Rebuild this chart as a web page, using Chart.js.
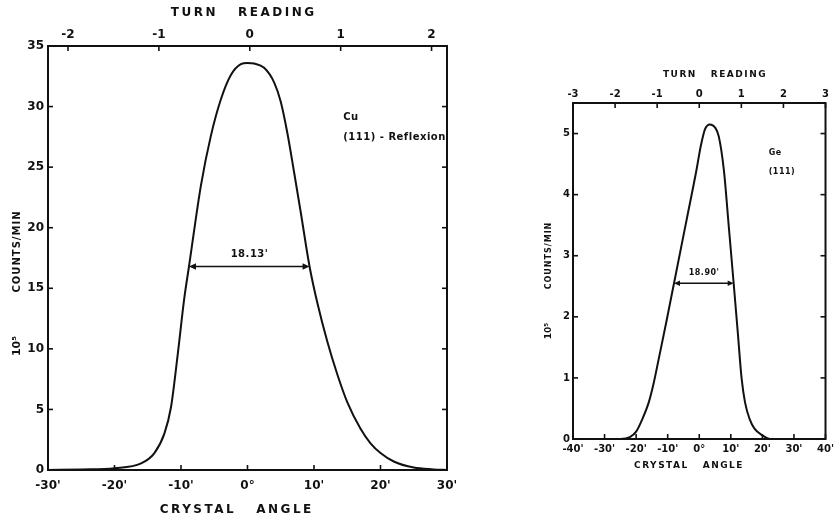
<!DOCTYPE html>
<html>
<head>
<meta charset="utf-8">
<script src="https://cdn.jsdelivr.net/npm/chart.js@4.4.0/dist/chart.umd.min.js"></script>
<style>
  body { margin: 0; background: #fff; width: 838px; height: 524px; overflow: hidden; position: relative; }
  .box { position: absolute; top: 0; }
  #cuBox { left: 0; }
  #geBox { left: 520px; }
</style>
</head>
<body>
<div class="box" id="cuBox"><canvas id="cuChart" width="470" height="524"></canvas></div>
<div class="box" id="geBox"><canvas id="geChart" width="318" height="524"></canvas></div>
<script>
// Cu (111) rocking curve: crystal angle in minutes of arc, counts in 10^5 / min
const cuAngle  = [-30, -25, -20, -16, -14, -12.5, -11.5, -10.5, -9.5, -8.8, -7, -5.5, -4, -2.5, -1, 0, 1, 2.5, 4, 5, 6, 7, 8, 9.33, 10.5, 12, 13.5, 15, 17, 18.5, 20, 22, 25, 28, 30];
const cuCounts = [0, 0.05, 0.15, 0.55, 1.4, 3.0, 5.2, 9.5, 14.2, 16.8, 23.5, 27.6, 30.6, 32.6, 33.5, 33.6, 33.55, 33.2, 32.0, 30.4, 27.8, 24.6, 21.3, 16.8, 13.8, 10.6, 7.9, 5.6, 3.4, 2.2, 1.4, 0.7, 0.2, 0.05, 0];
const cuCountTicks = [0, 5, 10, 15, 20, 25, 30, 35];
const cuAngleTicks = [-30, -20, -10, 0, 10, 20, 30];
const cuTurnTicks  = [-2, -1, 0, 1, 2];
const cuHalfLeft = -8.8;
const cuHalfWidth = 18.13;
const cuHalfLevel = 16.8;

// Ge (111) rocking curve
const geAngle  = [-40, -30, -25, -22, -20, -18, -16, -14.5, -13, -10.5, -8, -4, -1, 0.5, 1.8, 3.4, 5, 6.2, 7.8, 9.4, 10.9, 12.2, 13.4, 14.5, 16, 17.5, 20, 22.5, 30, 40];
const geCounts = [0, 0, 0, 0.03, 0.12, 0.33, 0.6, 0.9, 1.27, 1.9, 2.55, 3.59, 4.37, 4.8, 5.07, 5.15, 5.1, 4.95, 4.4, 3.45, 2.55, 1.75, 1.0, 0.6, 0.32, 0.17, 0.06, 0, 0, 0];
const geCountTicks = [0, 1, 2, 3, 4, 5];
const geAngleTicks = [-40, -30, -20, -10, 0, 10, 20, 30, 40];
const geTurnTicks  = [-3, -2, -1, 0, 1, 2, 3];
const geHalfLeft = -8.0;
const geHalfWidth = 18.90;
const geHalfLevel = 2.55;

const ink = '#111';
const face = "'DejaVu Sans', sans-serif";

const angleLabel = v => v === 0 ? '0°' : v + "'";

function line(ctx, x1, y1, x2, y2) {
  ctx.beginPath(); ctx.moveTo(x1, y1); ctx.lineTo(x2, y2); ctx.stroke();
}

function arrowHead(ctx, x, y, dir, len) {
  ctx.beginPath();
  ctx.moveTo(x, y);
  ctx.lineTo(x - dir * len, y - len * 0.45);
  ctx.lineTo(x - dir * len, y + len * 0.45);
  ctx.closePath();
  ctx.fill();
}

function spacedText(ctx, text, x, y, font, spacing) {
  ctx.font = font;
  ctx.letterSpacing = spacing + 'px';
  const w = ctx.measureText(text).width - spacing;
  ctx.textAlign = 'left';
  ctx.fillText(text, x - w / 2, y);
  ctx.letterSpacing = '0px';
}

// box, inward tick marks, half-width arrow, axis titles and notes
const framePlugin = {
  id: 'frame',
  afterDraw(chart, args, o) {
    const { ctx, chartArea: a, scales } = chart;
    const { x, y, x2 } = scales;
    ctx.save();
    ctx.strokeStyle = ink;
    ctx.fillStyle = ink;
    ctx.lineWidth = 2;
    ctx.strokeRect(a.left, a.top, a.right - a.left, a.bottom - a.top);

    ctx.lineWidth = 1.6;
    y.ticks.forEach(t => {
      const py = y.getPixelForValue(t.value);
      line(ctx, a.left, py, a.left + o.tick, py);
      line(ctx, a.right, py, a.right - o.tick, py);
    });
    x.ticks.forEach(t => {
      const px = x.getPixelForValue(t.value);
      line(ctx, px, a.bottom, px, a.bottom - o.tick);
    });
    x2.ticks.forEach(t => {
      const px = x2.getPixelForValue(t.value);
      line(ctx, px, a.top, px, a.top + o.tick);
    });

    // full width at half maximum
    const xl = x.getPixelForValue(o.halfLeft);
    const xr = x.getPixelForValue(o.halfLeft + o.halfWidth);
    const yh = y.getPixelForValue(o.halfLevel);
    ctx.lineWidth = 1.6;
    line(ctx, xl + 4, yh, xr - 4, yh);
    arrowHead(ctx, xl, yh, -1, o.head);
    arrowHead(ctx, xr, yh, 1, o.head);
    ctx.textBaseline = 'alphabetic';
    spacedText(ctx, o.halfWidth.toFixed(2) + "'", (xl + xr) / 2, yh - o.head - 2, 'bold ' + o.noteSize + 'px ' + face, 0.5);

    // sample notes
    ctx.textAlign = 'left';
    ctx.font = 'bold ' + o.noteSize + 'px ' + face;
    o.notes.forEach(n => {
      ctx.letterSpacing = '0.5px';
      ctx.fillText(n.text, x.getPixelForValue(n.x), y.getPixelForValue(n.y));
    });
    ctx.letterSpacing = '0px';

    // axis titles
    const cx = (a.left + a.right) / 2;
    const cy = (a.top + a.bottom) / 2;
    const tf = 'bold ' + o.titleSize + 'px ' + face;
    ctx.textBaseline = 'middle';
    spacedText(ctx, 'TURN   READING', cx + o.topDx, o.topY, tf, o.titleSpacing);
    spacedText(ctx, 'CRYSTAL   ANGLE', cx + o.bottomDx, o.bottomY, tf, o.titleSpacing);

    ctx.translate(a.left - o.yTitleGap, cy);
    ctx.rotate(-Math.PI / 2);
    spacedText(ctx, 'COUNTS/MIN', -o.countsDy, 0, 'bold ' + o.yTitleSize + 'px ' + face, 1);
    spacedText(ctx, '10⁵', -o.powerDy, 0, 'bold ' + (o.yTitleSize + 1) + 'px ' + face, 0);
    ctx.restore();
  }
};

function fixed(values) {
  return scale => { scale.ticks = values.map(v => ({ value: v })); };
}

function makeChart(id, cfg) {
  const tickFont = { family: face, size: cfg.tickSize, weight: 'bold' };
  return new Chart(document.getElementById(id), {
    type: 'line',
    data: {
      datasets: [{
        data: cfg.angle.map((v, i) => ({ x: v, y: cfg.counts[i] })),
        borderColor: ink,
        borderWidth: 2,
        pointRadius: 0,
        fill: false,
        cubicInterpolationMode: 'monotone'
      }]
    },
    options: {
      responsive: false,
      animation: false,
      layout: { padding: { right: cfg.padRight, left: 0, top: 0, bottom: 0 } },
      plugins: { legend: { display: false }, tooltip: { enabled: false }, frame: cfg.frame },
      scales: {
        x: {
          type: 'linear', position: 'bottom', min: cfg.xMin, max: cfg.xMax,
          afterBuildTicks: fixed(cfg.angleTicks),
          afterFit: s => { s.height = cfg.bottomH; },
          grid: { display: false, drawTicks: false }, border: { display: false },
          ticks: { font: tickFont, color: ink, padding: cfg.bottomPad, maxRotation: 0, autoSkip: false, callback: angleLabel }
        },
        x2: {
          type: 'linear', position: 'top', min: cfg.turnMin, max: cfg.turnMax,
          afterBuildTicks: fixed(cfg.turnTicks),
          afterFit: s => { s.height = cfg.topH; },
          grid: { display: false, drawTicks: false }, border: { display: false },
          ticks: { font: tickFont, color: ink, padding: cfg.topPad, maxRotation: 0, autoSkip: false }
        },
        y: {
          type: 'linear', min: cfg.yMin, max: cfg.yMax,
          afterBuildTicks: fixed(cfg.countTicks),
          afterFit: s => { s.width = cfg.leftW; },
          grid: { display: false, drawTicks: false }, border: { display: false },
          ticks: { font: tickFont, color: ink, padding: cfg.leftPad, autoSkip: false }
        }
      }
    },
    plugins: [framePlugin]
  });
}

makeChart('cuChart', {
  angle: cuAngle, counts: cuCounts,
  angleTicks: cuAngleTicks, turnTicks: cuTurnTicks, countTicks: cuCountTicks,
  xMin: -30, xMax: 30, turnMin: -2.22, turnMax: 2.17, yMin: 0, yMax: 35,
  tickSize: 12, padRight: 23, leftW: 48, topH: 46, bottomH: 54,
  leftPad: 4, topPad: 4, bottomPad: 9,
  frame: {
    tick: 5, head: 7, noteSize: 10,
    halfLeft: cuHalfLeft, halfWidth: cuHalfWidth, halfLevel: cuHalfLevel,
    notes: [{ text: 'Cu', x: 14.4, y: 28.9 }, { text: '(111) - Reflexion', x: 14.4, y: 27.2 }],
    titleSize: 12, titleSpacing: 2.5, topDx: -5, topY: 13, bottomDx: -12, bottomY: 510,
    yTitleGap: 31, yTitleSize: 10, countsDy: -6, powerDy: 88
  }
});

makeChart('geChart', {
  angle: geAngle, counts: geCounts,
  angleTicks: geAngleTicks, turnTicks: geTurnTicks, countTicks: geCountTicks,
  xMin: -40, xMax: 40, turnMin: -3, turnMax: 3, yMin: 0, yMax: 5.5,
  tickSize: 10, padRight: 8, leftW: 53, topH: 103, bottomH: 85,
  leftPad: 3, topPad: 3, bottomPad: 4,
  frame: {
    tick: 5, head: 6, noteSize: 8,
    halfLeft: geHalfLeft, halfWidth: geHalfWidth, halfLevel: geHalfLevel,
    notes: [{ text: 'Ge', x: 22, y: 4.65 }, { text: '(111)', x: 22, y: 4.33 }],
    titleSize: 9, titleSpacing: 1.5, topDx: 15, topY: 75, bottomDx: -11, bottomY: 466,
    yTitleGap: 24, yTitleSize: 8, countsDy: -15, powerDy: 60
  }
});
</script>
</body>
</html>
